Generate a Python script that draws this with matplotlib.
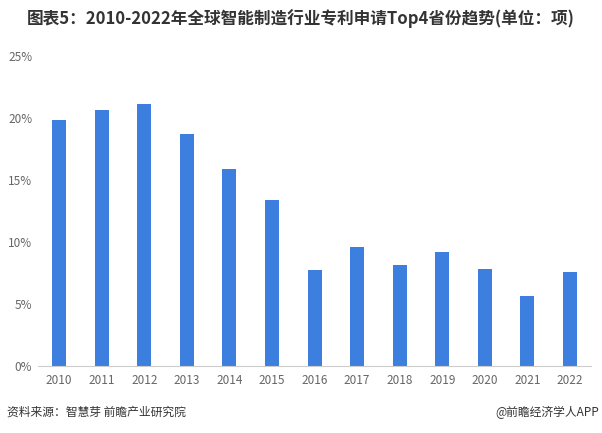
import matplotlib
matplotlib.use('Agg')
import matplotlib.pyplot as plt
from matplotlib.ticker import FuncFormatter

plt.rcParams['font.family'] = ['Noto Sans CJK SC', 'DejaVu Sans']

years = ['2010', '2011', '2012', '2013', '2014', '2015', '2016',
         '2017', '2018', '2019', '2020', '2021', '2022']
share = [19.8, 20.6, 21.1, 18.7, 15.9, 13.4, 7.7, 9.6, 8.1, 9.2, 7.8, 5.6, 7.6]
yticks = [0, 5, 10, 15, 20, 25]

fig = plt.figure(figsize=(6.02, 4.33), dpi=100)
ax = fig.add_axes([0.063, 0.155, 0.919, 0.716])

ax.bar(range(len(years)), share, width=0.33, color='#3d7fde')
ax.set_xlim(-0.5, len(years) - 0.5)
ax.set_ylim(0, 25)
ax.set_yticks(yticks)
ax.yaxis.set_major_formatter(FuncFormatter(lambda v, p: '%d%%' % v))
ax.set_xticks(range(len(years)))
ax.set_xticklabels(years)

for s in ['top', 'right', 'left']:
    ax.spines[s].set_visible(False)
ax.spines['bottom'].set_color('#cccccc')
ax.tick_params(axis='both', length=0, labelsize=8.5, colors='#666666')
ax.tick_params(axis='x', pad=6)
ax.tick_params(axis='y', pad=4)

fig.text(0.5, 0.958, '图表5：2010-2022年全球智能制造行业专利申请Top4省份趋势(单位：项)',
         ha='center', va='center', fontsize=12, fontweight='bold', color='#333333')
fig.text(0.012, 0.048, '资料来源：智慧芽 前瞻产业研究院', ha='left', va='center',
         fontsize=8.5, color='#333333')
fig.text(0.995, 0.048, '@前瞻经济学人APP', ha='right', va='center',
         fontsize=8.5, color='#333333')

fig.savefig('out.png', dpi=100)
